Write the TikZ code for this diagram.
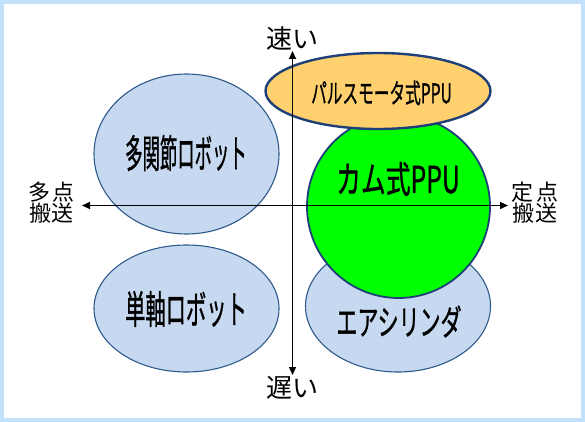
\documentclass[tikz,border=0pt]{standalone}
\usepackage{fontspec}
\usepackage{graphicx}
\newfontfamily\jp{Noto Sans CJK JP}
\newfontfamily\jpb[FakeBold=1.2]{Noto Sans CJK JP}
\usetikzlibrary{shapes.geometric,arrows.meta}
\definecolor{frameblue}{HTML}{C4E1FB}
\definecolor{bubblefill}{HTML}{C6D9F0}
\definecolor{bubbleline}{HTML}{2E5A8C}
\definecolor{orangefill}{HTML}{FFD06E}
\definecolor{darkline}{HTML}{1F3F78}
\definecolor{camgreen}{HTML}{00FF00}
\newcommand{\sqtext}[3]{\scalebox{#1}[1]{\fontsize{#2}{#2}\selectfont\jpb #3}}
\tikzset{
  bubble/.style={ellipse, draw=bubbleline, line width=1.1pt, fill=bubblefill, inner sep=0pt},
  lbl/.style={inner sep=0pt, text=black, font=\jp},
  axis/.style={line width=1.4pt, black, {Triangle[length=8pt,width=7pt]}-{Triangle[length=8pt,width=7pt]}},
  sidelbl/.style={inner sep=0pt, align=center, font=\jp\fontsize{22}{21}\selectfont}
}
\begin{document}
\begin{tikzpicture}[x=1pt,y=-1pt]
\useasboundingbox (0,0) rectangle (585,422);
\fill[frameblue] (0,0) rectangle (585,422);
\fill[white] (4,4) rectangle (581,418);
% bubbles
\node[bubble, minimum width=185pt, minimum height=160pt] (multi) at (186.5,154) {};
\node[bubble, minimum width=185pt, minimum height=127pt] (single) at (186.5,308.5) {};
\node[bubble, minimum width=185pt, minimum height=132pt] (air) at (398,306) {};
\node[circle, draw=darkline, line width=1.8pt, fill=camgreen, inner sep=0pt, minimum size=183pt] (cam) at (398.5,206.5) {};
\node[ellipse, draw=darkline, line width=2.4pt, fill=orangefill, inner sep=0pt, minimum width=225pt, minimum height=76pt] (pulse) at (378,91) {};
% axes
\coordinate (top) at (292.5,51);
\coordinate (bottom) at (292.5,375);
\coordinate (left) at (82,205.5);
\coordinate (right) at (508,205.5);
\draw[axis] (bottom) -- (top);
\draw[axis] (left) -- (right);
% axis labels
\node[lbl, font=\jp\fontsize{26}{26}\selectfont] (fast) at (292.5,39) {速い};
\node[lbl, font=\jp\fontsize{26}{26}\selectfont] (slow) at (292.5,388) {遅い};
\node[sidelbl] (multipt) at (51.5,203) {多\hspace{3pt}点\\搬\hspace{1pt}送};
\node[sidelbl] (fixedpt) at (535,203) {定\hspace{3pt}点\\搬\hspace{1pt}送};
% bubble labels
\node[lbl] (tmulti) at (186,153) {\sqtext{0.445}{39}{多関節ロボット}};
\node[lbl] (tsingle) at (186,309) {\sqtext{0.52}{39}{単軸ロボット}};
\node[lbl] (tair) at (399,321.5) {\sqtext{0.6}{35}{エアシリンダ}};
\node[lbl] (tcam) at (398,179) {\sqtext{0.67}{37}{カム式PPU}};
\node[lbl] (tpulse) at (381.5,93) {\sqtext{0.58}{27}{パルスモータ式PPU}};
\end{tikzpicture}
\end{document}
